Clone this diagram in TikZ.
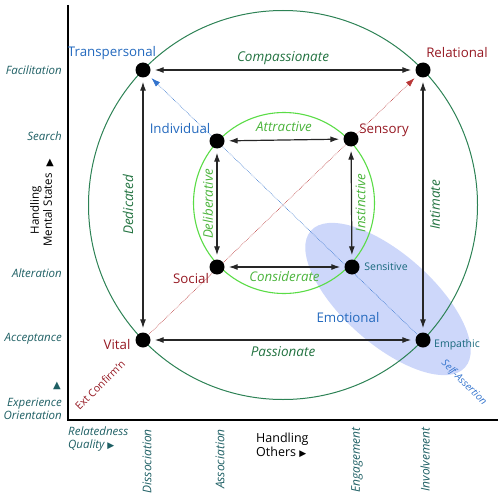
\documentclass[tikz,border=0pt]{standalone}
\usepackage{fontspec}
\setmainfont{Open Sans}
\newfontfamily\symfont{DejaVu Sans}
\usetikzlibrary{arrows.meta,backgrounds}

\definecolor{ringgreen}{RGB}{45,130,85}
\definecolor{ringlabel}{RGB}{35,115,65}
\definecolor{coregreen}{RGB}{90,220,70}
\definecolor{corelabel}{RGB}{75,180,60}
\definecolor{facetblue}{RGB}{35,105,190}
\definecolor{facetred}{RGB}{150,25,35}
\definecolor{facetteal}{RGB}{25,105,125}
\definecolor{axisteal}{RGB}{30,95,100}
\definecolor{emoblue}{RGB}{205,215,250}
\definecolor{diagblue}{RGB}{50,115,205}
\definecolor{diagred}{RGB}{185,55,55}

\begin{document}
\begin{tikzpicture}[>={Latex[length=9pt,width=6pt]}, x=1pt, y=-1pt,
  dot/.style={circle,fill=black,inner sep=0pt,minimum size=15pt},
  link/.style={<->,line width=1.2pt,black!85,shorten >=4pt,shorten <=4pt},
  diag/.style={->,densely dotted,line width=0.6pt,shorten >=4pt,shorten <=1pt},
  ringlbl/.style={text=ringlabel,font=\fontsize{13.5}{15}\selectfont\itshape,inner sep=0pt},
  corelbl/.style={text=corelabel,font=\fontsize{13.3}{15}\selectfont\itshape,inner sep=0pt},
  facet/.style={font=\fontsize{13.3}{15}\selectfont,inner sep=0pt},
  smallfacet/.style={text=facetteal,font=\fontsize{10.5}{12}\selectfont,inner sep=0pt},
  level/.style={text=axisteal,font=\fontsize{11.5}{13}\selectfont\itshape,anchor=east,align=right,inner sep=0pt},
  quality/.style={text=axisteal,font=\fontsize{12}{13}\selectfont\itshape,rotate=90,anchor=east,inner sep=0pt},
  axistitle/.style={font=\fontsize{12.5}{13.5}\selectfont,inner sep=0pt}]
\useasboundingbox (0,0) rectangle (500,500);

% emotional region
\begin{pgfonlayer}{background}
\fill[emoblue,shift={(388,299)},rotate=-41.5] (0,0) ellipse [x radius=103pt,y radius=45pt];
\end{pgfonlayer}

% axes
\draw[line width=2pt] (68,5) -- (68,420) -- (498,420);

% rings
\draw[ringgreen,line width=1pt] (283,205) circle [radius=194.5pt];
\draw[coregreen,line width=1.1pt] (284,203) circle [radius=90.5pt];

% facets
\node[dot] (tp) at (143,70) {};
\node[dot] (rl) at (423,70) {};
\node[dot] (vt) at (143,340) {};
\node[dot] (em) at (423,340) {};
\node[dot] (in) at (217,141) {};
\node[dot] (se) at (351,139) {};
\node[dot] (so) at (217,267) {};
\node[dot] (sn) at (352,267) {};

\node[facet,text=facetblue] (tplbl) at (112,53) {Transpersonal};
\node[facet,text=facetred] (rllbl) at (457,53) {Relational};
\node[facet,text=facetred] (vtlbl) at (117,345) {Vital};
\node[smallfacet] (emlbl) at (457,345) {Empathic};
\node[facet,text=facetblue] (inlbl) at (180,129) {Individual};
\node[facet,text=facetred] (selbl) at (384,130) {Sensory};
\node[facet,text=facetred] (solbl) at (191,279) {Social};
\node[smallfacet] (snlbl) at (386,267) {Sensitive};
\node[facet,text=facetblue] (emo) at (348,318) {Emotional};

% diagonals
\begin{pgfonlayer}{background}
\draw[diag,diagblue] (em) -- (tp);
\draw[diag,diagred] (vt) -- (rl);
\end{pgfonlayer}
\node[text=diagblue,font=\fontsize{10}{11}\selectfont\itshape,rotate=-45,inner sep=0pt] (selfas) at (464,383) {Self-Assertion};
\node[text=facetred,font=\fontsize{10.5}{11}\selectfont,rotate=45,inner sep=0pt] (extcf) at (100,385) {Ext Confirm’n};

% outer links
\draw[link] (tp) -- node[ringlbl,midway,yshift=12pt] {Compassionate} (rl);
\draw[link] (vt) -- node[ringlbl,midway,yshift=-12pt] {Passionate} (em);
\draw[link] (tp) -- node[ringlbl,midway,xshift=-15pt,rotate=90] {Dedicated} (vt);
\draw[link] (rl) -- node[ringlbl,midway,xshift=12pt,rotate=90] {Intimate} (em);

% inner links
\draw[link] (in) -- node[corelbl,midway,yshift=13pt] {Attractive} (se);
\draw[link] (so) -- node[corelbl,midway,yshift=-10pt] {Considerate} (sn);
\draw[link] (in) -- node[corelbl,midway,xshift=-9pt,rotate=90] {Deliberative} (so);
\draw[link] (se) -- node[corelbl,midway,xshift=9pt,rotate=90] {Instinctive} (sn);

% vertical axis
\node[level] (facil) at (62,70) {Facilitation};
\node[level] (search) at (62,136) {Search};
\node[level] (alter) at (62,273) {Alteration};
\node[level] (accept) at (62,339) {Acceptance};
\node[text=axisteal,font=\fontsize{10}{12}\symfont,inner sep=0pt] (expup) at (57,386) {▲};
\node[level] (expor) at (62,408.5) {Experience\\Orientation};
\node[font=\fontsize{10}{12}\symfont,inner sep=0pt] (mentup) at (50,163) {▲};
\node[axistitle,font=\fontsize{11.5}{13}\selectfont,rotate=90,align=center] (mental) at (41,210) {Handling\\Mental States};

% horizontal axis
\node[level,anchor=north west,align=left] (relq) at (68,427) {Relatedness\\Quality {\upshape\symfont\fontsize{9}{12}\selectfont ▶}};
\node[quality] (dissoc) at (147,429) {Dissociation};
\node[quality] (assoc) at (220,429) {Association};
\node[quality] (engage) at (357,427) {Engagement};
\node[quality] (involve) at (425,427) {Involvement};
\node[axistitle,anchor=north west,align=left] (others) at (256,433) {Handling\\Others {\symfont\fontsize{9}{12}\selectfont ▶}};
\end{tikzpicture}
\end{document}
